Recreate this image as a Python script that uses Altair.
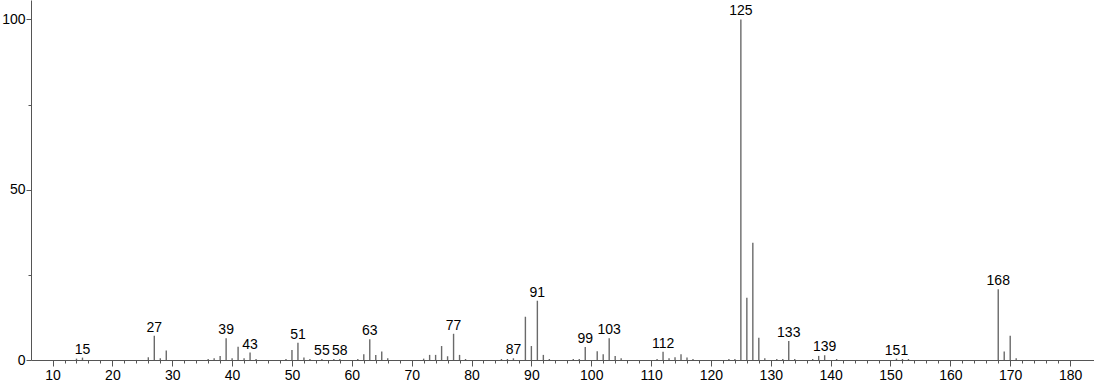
import altair as alt
import pandas as pd

mz = [14, 15, 26, 27, 28, 29, 36, 37, 38, 39, 40, 41, 42, 43, 44, 49, 50, 51, 52, 53,
      55, 57, 58, 61, 62, 63, 64, 65, 66, 72, 73, 74, 75, 76, 77, 78, 79, 85, 86, 87,
      89, 90, 91, 92, 93, 97, 98, 99, 101, 102, 103, 104, 105, 111, 112, 113, 114, 115,
      116, 117, 123, 124, 125, 126, 127, 128, 129, 131, 132, 133, 134, 137, 138, 139,
      141, 151, 152, 153, 168, 169, 170, 171]
intensity = [0.4, 0.7, 0.8, 7.1, 0.5, 2.8, 0.3, 0.5, 1.2, 6.4, 0.5, 3.9, 0.5, 2.2, 0.3, 0.3, 2.9, 5.1, 0.7, 0.3,
             0.3, 0.3, 0.3, 0.3, 1.7, 6.1, 1.5, 2.5, 0.5, 0.4, 1.5, 1.5, 4.1, 1.1, 7.7, 1.5, 0.3, 0.3, 0.3, 0.5,
             12.7, 4.1, 17.4, 1.5, 0.3, 0.3, 0.3, 3.8, 2.6, 1.7, 6.4, 1.2, 0.5, 0.3, 2.4, 0.5, 0.8, 1.7,
             0.7, 0.3, 0.3, 0.3, 100, 18.3, 34.4, 6.5, 0.5, 0.3, 0.3, 5.6, 0.3, 0.3, 1.2, 1.4,
             0.3, 0.4, 0.3, 0.3, 20.8, 2.5, 7.1, 0.5]
labeled = [15, 27, 39, 43, 51, 55, 58, 63, 77, 87, 91, 99, 103, 112, 125, 133, 139, 151, 168]

x_ticks = list(range(10, 181, 2))
y_ticks = [0, 25, 50, 75, 100]

df = pd.DataFrame({"mz": mz, "intensity": intensity})
df["base"] = 0
df["label"] = [str(m) if m in labeled else "" for m in mz]

FONT = "Liberation Sans"

xscale = alt.Scale(domain=[6.4, 184], nice=False, zero=False)
yscale = alt.Scale(domain=[0, 105.7], nice=False)

xaxis = alt.Axis(
    values=x_ticks, tickCount=500, format="d",
    labelExpr="datum.value % 10 === 0 ? datum.label : ''",
    tickSize={"condition": {"test": "datum.value % 10 === 0", "value": 6}, "value": 3},
    title=None, grid=False, domainColor="#555555", tickColor="#555555",
    labelColor="#000000", labelFont=FONT, labelFontSize=14, labelPadding=2,
    labelFlush=False, labelOverlap=False,
)
yaxis = alt.Axis(
    values=y_ticks, tickCount=50, format="d",
    labelExpr="datum.value % 50 === 0 ? datum.label : ''",
    tickSize={"condition": {"test": "datum.value % 50 === 0", "value": 5}, "value": 3},
    title=None, grid=False, domainColor="#555555", tickColor="#555555",
    labelColor="#000000", labelFont=FONT, labelFontSize=14, labelPadding=1,
    labelFlush=False, labelOverlap=False,
)

base = alt.Chart(df)

bars = base.mark_rule(color="#6a6a6a", strokeWidth=1.4).encode(
    x=alt.X("mz:Q", scale=xscale, axis=xaxis),
    y=alt.Y("base:Q", scale=yscale, axis=yaxis),
    y2="intensity:Q",
)

labels = base.mark_text(
    font=FONT, fontSize=14, color="#000000", baseline="alphabetic", align="center", dy=-4
).encode(
    x=alt.X("mz:Q", scale=xscale, axis=xaxis),
    y=alt.Y("intensity:Q", scale=yscale, axis=yaxis),
    text="label:N",
)

chart = alt.layer(bars, labels).properties(
    width=1063, height=360,
    padding={"left": 31, "top": 0, "right": 0, "bottom": 24},
    autosize=alt.AutoSizeParams(type="none"),
).configure_view(strokeWidth=0)

chart.save("out.html", embed_options={"renderer": "svg", "actions": False})
